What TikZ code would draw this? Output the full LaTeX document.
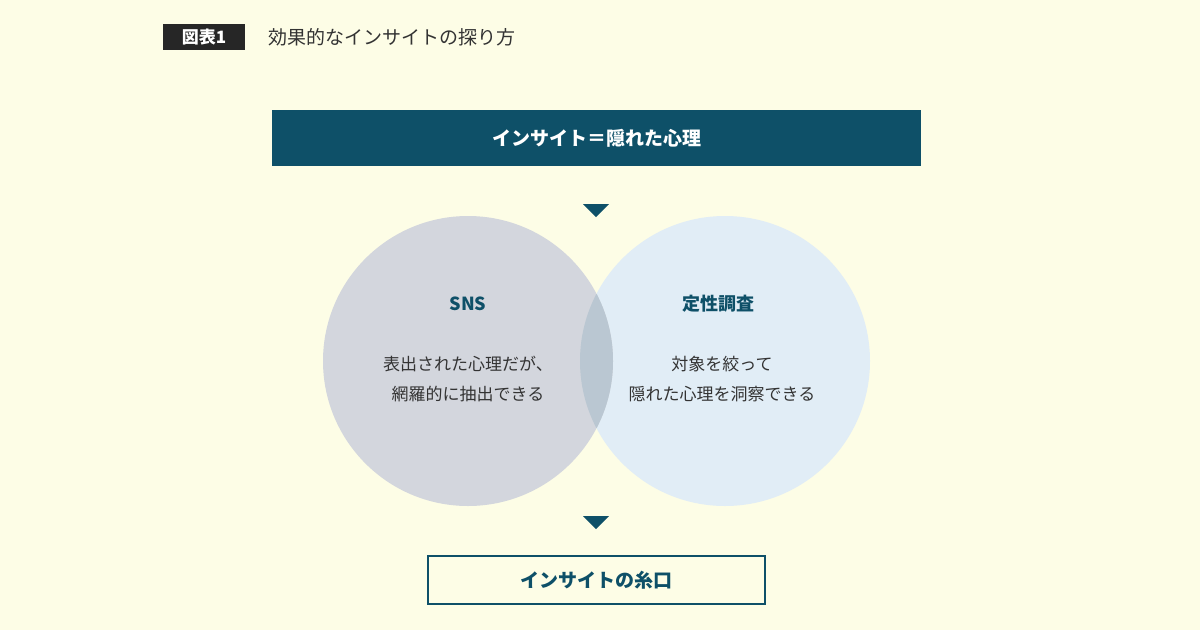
\documentclass[tikz,border=0pt]{standalone}
\usepackage{fontspec}
\newfontfamily\jp{Noto Sans CJK JP}
\definecolor{bg}{HTML}{FDFDE6}
\definecolor{teal}{HTML}{0E5068}
\definecolor{lgray}{HTML}{D3D6DD}
\definecolor{lblue}{HTML}{E1EDF6}
\definecolor{overlap}{HTML}{BAC7D2}
\definecolor{txt}{HTML}{333333}
\tikzset{tri/.style={fill=teal,draw=none},
 body/.style={font=\jp\fontsize{17}{30}\selectfont,text=txt,align=center},
 head/.style={font=\jp\bfseries\fontsize{18}{22}\selectfont,text=teal}}
\begin{document}
\begin{tikzpicture}[x=1pt,y=-1pt]
\fill[bg] (0,0) rectangle (1200,630);
\useasboundingbox (0,0) rectangle (1200,630);
\node[fill=black!85,minimum width=82,minimum height=26,inner sep=0,text=white,font=\jp\bfseries\fontsize{17}{20}\selectfont] (lab) at (204,37) {図表1};
\node[anchor=west,inner sep=0,text=txt,font=\jp\fontsize{19}{22}\selectfont] (ttl) at (268,37) {効果的なインサイトの探り方};
\node[fill=teal,minimum width=649,minimum height=56,inner sep=0,text=white,font=\jp\bfseries\fontsize{19}{22}\selectfont] (top) at (596.5,138) {インサイト＝隠れた心理};
\fill[tri] (583,204) -- (609,204) -- (596,217) -- cycle;
\fill[lblue] (725,361) circle (145);
\fill[lgray] (468,361) circle (145);
\begin{scope}
\clip (725,361) circle (145);
\fill[overlap] (468,361) circle (145);
\end{scope}
\node[head] (sns) at (468,304) {SNS};
\node[head] (qual) at (718,304) {定性調査};
\node[body] (snsb) at (468,379) {表出された心理だが、\\網羅的に抽出できる};
\node[body] (qualb) at (722,379) {対象を絞って\\隠れた心理を洞察できる};
\fill[tri] (583,516) -- (609,516) -- (596,529) -- cycle;
\node[draw=teal,line width=1.5,fill=bg,minimum width=337,minimum height=48,inner sep=0,text=teal,font=\jp\bfseries\fontsize{19}{22}\selectfont] (bot) at (596.5,580) {インサイトの糸口};
\end{tikzpicture}
\end{document}
